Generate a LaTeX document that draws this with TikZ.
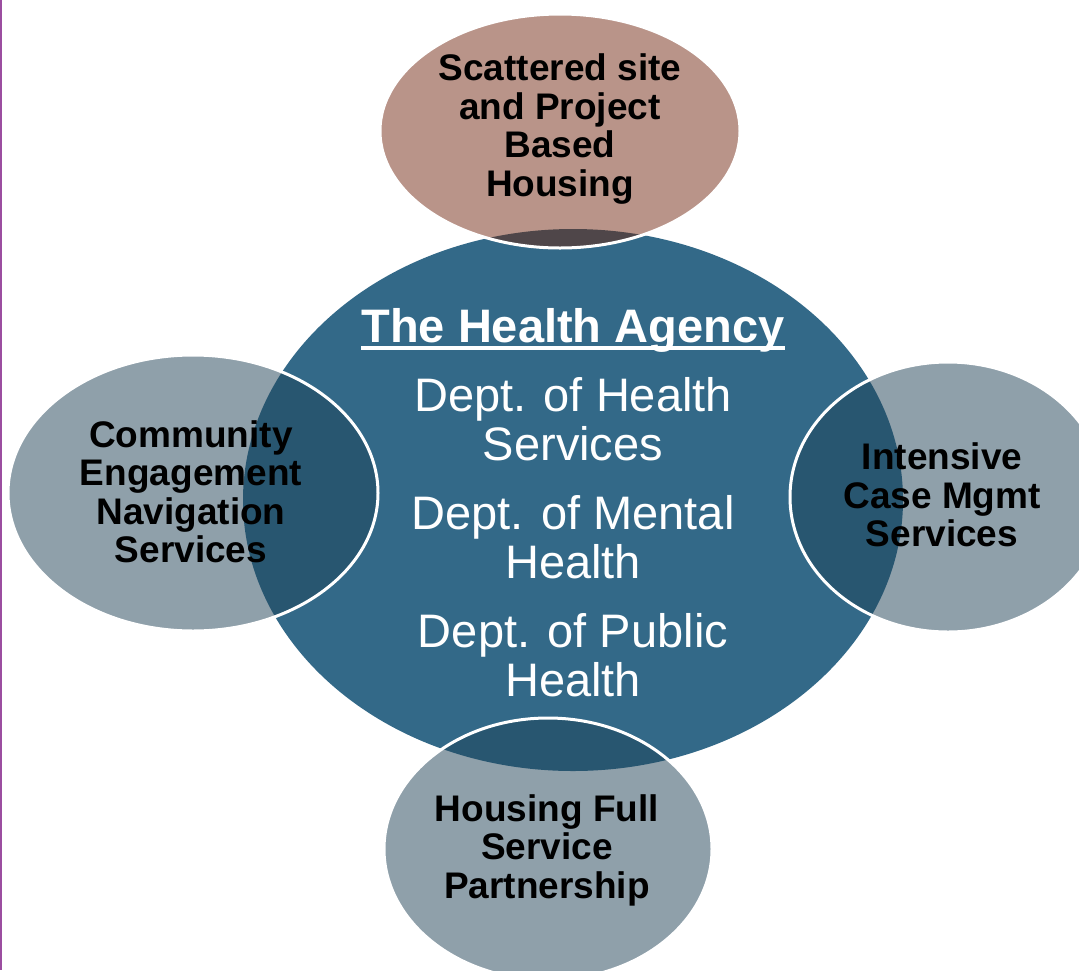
\documentclass[tikz,border=0pt]{standalone}
\usepackage{fontspec}
\setmainfont{Liberation Sans}
\usetikzlibrary{positioning}

\definecolor{agencyblue}{RGB}{51,105,136}
\definecolor{satgrey}{RGB}{143,160,170}
\definecolor{satdark}{RGB}{40,86,112}
\definecolor{housebrown}{RGB}{185,148,137}
\definecolor{housedark}{RGB}{79,70,73}
\definecolor{edgepurple}{RGB}{155,78,160}

\begin{document}
\begin{tikzpicture}[x = 1pt, y = -1pt,
    satline/.style = {draw = white, line width = 3pt},
    sattext/.style = {align = center, inner sep = 0pt, font = \bfseries\fontsize{37}{38.5}\selectfont},
    agency/.style = {align = center, inner sep = 0pt, text = white, font = \fontsize{47}{48.5}\selectfont}]
  \useasboundingbox (0,0) rectangle (1079,970);
  \clip (0,0) rectangle (1079,970);
  \fill[white] (0,0) rectangle (1079,970);
  \draw[edgepurple, line width = 1.5pt] (0.75,0) -- (0.75,970);

  % the agency and the four partners
  \fill[agencyblue] (573,500) ellipse [x radius = 330pt, y radius = 271pt];
  \fill[housebrown] (560,131) ellipse [x radius = 180pt, y radius = 117pt];
  \fill[satgrey] (193,493) ellipse [x radius = 185pt, y radius = 138pt]
                 (948,497) ellipse [x radius = 158pt, y radius = 135pt]
                 (548,849) ellipse [x radius = 164pt, y radius = 131pt];

  % overlaps
  \begin{scope}
    \clip (573,500) ellipse [x radius = 330pt, y radius = 271pt];
    \fill[housedark] (560,131) ellipse [x radius = 180pt, y radius = 117pt];
    \fill[satdark] (193,493) ellipse [x radius = 185pt, y radius = 138pt]
                   (948,497) ellipse [x radius = 158pt, y radius = 135pt]
                   (548,849) ellipse [x radius = 164pt, y radius = 131pt];
  \end{scope}
  \draw[satline] (560,131) ellipse [x radius = 180pt, y radius = 117pt]
                 (193,493) ellipse [x radius = 185pt, y radius = 138pt]
                 (948,497) ellipse [x radius = 158pt, y radius = 135pt]
                 (548,849) ellipse [x radius = 164pt, y radius = 131pt];

  % texts
  \node[sattext] (housing) at (560,129) {Scattered site\\and Project\\Based\\Housing};
  \node[sattext] (engage) at (191,492) {Community\\Engagement\\Navigation\\Services};
  \node[sattext] (icm) at (942,495) {Intensive\\Case Mgmt\\Services};
  \node[sattext] (fsp) at (547,850) {Housing Full\\Service\\Partnership};

  \node[agency, font = \bfseries\fontsize{47}{48.5}\selectfont, anchor = base] (title) at (573,342) {The Health Agency};
  \draw[white, line width = 4pt] ([yshift = -6pt]title.base west) -- ([yshift = -6pt]title.base east);
  \node[agency] (dhs) at (573,419) {Dept. of Health\\Services};
  \node[agency] (dmh) at (573,537) {Dept. of Mental\\Health};
  \node[agency] (dph) at (573,655) {Dept. of Public\\Health};
\end{tikzpicture}
\end{document}
